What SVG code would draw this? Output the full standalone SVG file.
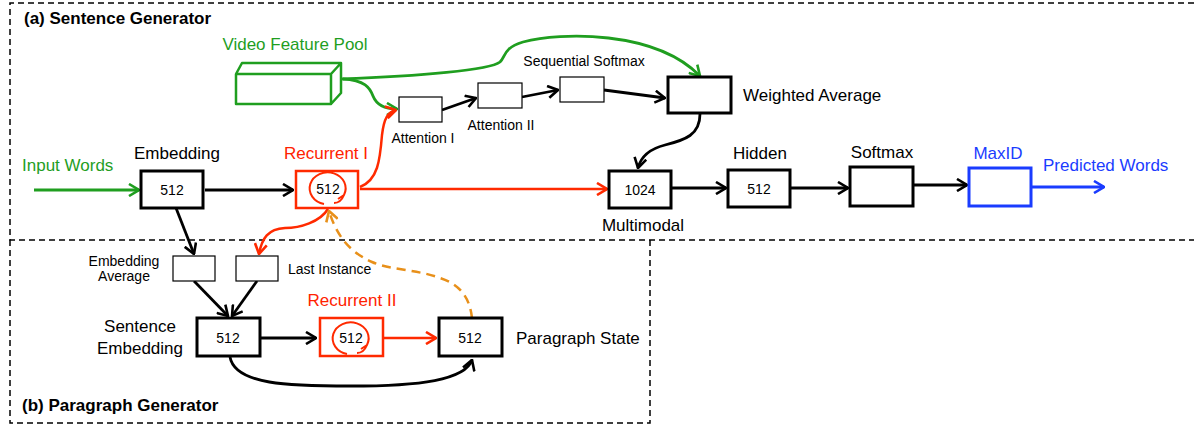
<svg xmlns="http://www.w3.org/2000/svg" width="1194" height="425" viewBox="0 0 1194 425">
<style>
text{font-family:"Liberation Sans",Arial,sans-serif;fill:#000}
.lbl{font-size:17px}
.sm{font-size:14px}
.num{font-size:14px;text-anchor:middle}
.title{font-size:17px;font-weight:bold}
.g{fill:#1f9e1f}.r{fill:#ff2200}.b{fill:#1a3cff}
.box{fill:#fff;stroke:#000;stroke-width:3}
.thin{fill:#fff;stroke:#000;stroke-width:1.2}
.rbox{fill:#fff;stroke:#ff2a00;stroke-width:2.5}
.bbox{fill:#fff;stroke:#1a3cff;stroke-width:3}
.dash{fill:none;stroke:#000;stroke-width:1.5;stroke-dasharray:6 4}
.k{fill:none;stroke:#000;stroke-width:2.8;marker-end:url(#mk)}
.kr{fill:none;stroke:#ff2a00;stroke-width:2.5;marker-end:url(#mr)}
.kg{fill:none;stroke:#1f9e1f;stroke-width:2.8;marker-end:url(#mg)}
.kb{fill:none;stroke:#1a3cff;stroke-width:2.8;marker-end:url(#mb)}
.ko{fill:none;stroke:#e8901a;stroke-width:2.5;stroke-dasharray:9 6;marker-end:url(#mo)}
.loop{fill:none;stroke:#ff2a00;stroke-width:2}
</style>
<defs>
<marker id="mk" viewBox="0 0 12 14" refX="11" refY="7" markerWidth="12" markerHeight="14" markerUnits="userSpaceOnUse" orient="auto"><path d="M1,1 L11,7 L1,13" fill="none" stroke="#000" stroke-width="2.6"/></marker>
<marker id="mr" viewBox="0 0 12 14" refX="11" refY="7" markerWidth="12" markerHeight="14" markerUnits="userSpaceOnUse" orient="auto"><path d="M1,1 L11,7 L1,13" fill="none" stroke="#ff2a00" stroke-width="2.6"/></marker>
<marker id="mg" viewBox="0 0 12 14" refX="11" refY="7" markerWidth="12" markerHeight="14" markerUnits="userSpaceOnUse" orient="auto"><path d="M1,1 L11,7 L1,13" fill="none" stroke="#1f9e1f" stroke-width="2.6"/></marker>
<marker id="mb" viewBox="0 0 12 14" refX="11" refY="7" markerWidth="12" markerHeight="14" markerUnits="userSpaceOnUse" orient="auto"><path d="M1,1 L11,7 L1,13" fill="none" stroke="#1a3cff" stroke-width="2.6"/></marker>
<marker id="mo" viewBox="0 0 12 14" refX="11" refY="7" markerWidth="12" markerHeight="14" markerUnits="userSpaceOnUse" orient="auto"><path d="M1,1 L11,7 L1,13" fill="none" stroke="#e8901a" stroke-width="2.6"/></marker>
</defs>
<rect width="1194" height="425" fill="#fff"/>

<g id="frames">
<path class="dash" d="M1194,3 L10,3 L10,240 L1194,240"/>
<path class="dash" d="M650,240 L650,423 L10,423 L10,240"/>
<text class="title" x="24" y="24">(a) Sentence Generator</text>
<text class="title" x="22" y="411">(b) Paragraph Generator</text>
</g>

<g id="connectors">
<path class="kg" d="M341,79 C420,76 490,70 500,62 C506,56 503,48 523,42 C560,32 655,30 700,76"/>
<path class="kg" d="M343,79 C365,80 370,88 373,96 C377,106 386,109 397,109"/>
<path class="kr" d="M360,187 C378,180 380,160 382,135 C384,118 388,112 396,110"/>
<path class="k" d="M442,110 L476,98"/>
<path class="k" d="M522,97 L558,90"/>
<path class="k" d="M604,90 L665,98"/>
<path class="k" d="M700,114 C700,135 685,140 665,145 C645,150 640,160 638,168"/>
<path class="kg" d="M34,190 L139,190"/>
<path class="k" d="M205,190 L293,190"/>
<path class="kr" d="M360,189 L607,189"/>
<path class="k" d="M671,188 L726,188"/>
<path class="k" d="M790,188 L848,188"/>
<path class="k" d="M913,185 L967,185"/>
<path class="kb" d="M1031,187 L1104,187"/>
<path class="k" d="M176,208 L194,254"/>
<path class="kr" d="M328,209 C320,222 300,228 285,228 C268,229 262,238 259,254"/>
<path class="ko" d="M472,318 C470,300 462,285 440,278 C420,270 390,270 372,262 C345,250 335,230 329,211"/>
<path class="k" d="M194,281 L228,316"/>
<path class="k" d="M257,281 L232,316"/>
<path class="k" d="M260,338 L316,338"/>
<path class="kr" d="M383,338 L436,338"/>
<path class="k" d="M230,357 C235,385 290,386 350,386 C420,386 465,380 472,360"/>
</g>

<g id="video-feature-pool">
<path d="M236,74 L331,74 L331,104 L236,104 Z M236,74 L242,63 L341,63 L331,74 M341,63 L341,93 L331,104" fill="#fff" stroke="#1f9e1f" stroke-width="2.5" stroke-linejoin="round"/>
<text class="lbl g" x="295" y="50" text-anchor="middle">Video Feature Pool</text>
</g>

<g id="attention-1">
<rect class="thin" x="399" y="97" width="43" height="25"/>
<text class="sm" x="423" y="143" text-anchor="middle">Attention I</text>
</g>
<g id="attention-2">
<rect class="thin" x="478" y="83" width="44" height="25"/>
<text class="sm" x="501" y="130" text-anchor="middle">Attention II</text>
</g>
<g id="sequential-softmax">
<rect class="thin" x="560" y="77" width="44" height="25"/>
<text class="sm" x="584" y="66" text-anchor="middle">Sequential Softmax</text>
</g>
<g id="weighted-average">
<rect class="box" x="668" y="77" width="63" height="36" stroke-width="3.5"/>
<text class="lbl" x="743" y="101">Weighted Average</text>
</g>

<g id="input-words">
<text class="lbl g" x="22" y="171">Input Words</text>
</g>
<g id="embedding">
<rect class="box" x="141" y="171" width="62" height="37"/>
<text class="num" x="172" y="195">512</text>
<text class="lbl" x="177" y="159" text-anchor="middle">Embedding</text>
</g>
<g id="recurrent-1">
<rect class="rbox" x="296" y="171" width="62" height="37"/>
<path class="loop" d="M324,204 A18,16 0 1 1 344,195 M344,195 C342,200 339,203 334,203 M344,195 L338,199"/>
<text class="num" x="328" y="194">512</text>
<text class="lbl r" x="326" y="159" text-anchor="middle">Recurrent I</text>
</g>
<g id="multimodal">
<rect class="box" x="609" y="171" width="62" height="37"/>
<text class="num" x="640" y="195">1024</text>
<text class="lbl" x="643" y="231" text-anchor="middle">Multimodal</text>
</g>
<g id="hidden">
<rect class="box" x="728" y="170" width="62" height="37"/>
<text class="num" x="759" y="194">512</text>
<text class="lbl" x="760" y="159" text-anchor="middle">Hidden</text>
</g>
<g id="softmax">
<rect class="box" x="850" y="167" width="63" height="39"/>
<text class="lbl" x="882" y="158" text-anchor="middle">Softmax</text>
</g>
<g id="maxid">
<rect class="bbox" x="969" y="168" width="62" height="38"/>
<text class="lbl b" x="998" y="159" text-anchor="middle">MaxID</text>
</g>
<g id="predicted-words">
<text class="lbl b" x="1043" y="171">Predicted Words</text>
</g>

<g id="embedding-average">
<rect class="thin" x="173" y="256" width="42" height="25"/>
<text class="sm" x="124" y="266" text-anchor="middle">Embedding</text>
<text class="sm" x="124" y="281" text-anchor="middle">Average</text>
</g>
<g id="last-instance">
<rect class="thin" x="236" y="256" width="42" height="25"/>
<text class="sm" x="288" y="274">Last Instance</text>
</g>
<g id="sentence-embedding">
<rect class="box" x="197" y="318" width="63" height="38"/>
<text class="num" x="228" y="343">512</text>
<text class="lbl" x="140" y="332" text-anchor="middle">Sentence</text>
<text class="lbl" x="140" y="354" text-anchor="middle">Embedding</text>
</g>
<g id="recurrent-2">
<rect class="rbox" x="320" y="318" width="63" height="38"/>
<path class="loop" d="M347,354 A18,16 0 1 1 367,345 M367,345 C365,350 362,353 357,353 M367,345 L361,349"/>
<text class="num" x="351" y="343">512</text>
<text class="lbl r" x="352" y="306" text-anchor="middle">Recurrent II</text>
</g>
<g id="paragraph-state">
<rect class="box" x="439" y="318" width="63" height="38"/>
<text class="num" x="470" y="343">512</text>
<text class="lbl" x="516" y="344">Paragraph State</text>
</g>
</svg>
